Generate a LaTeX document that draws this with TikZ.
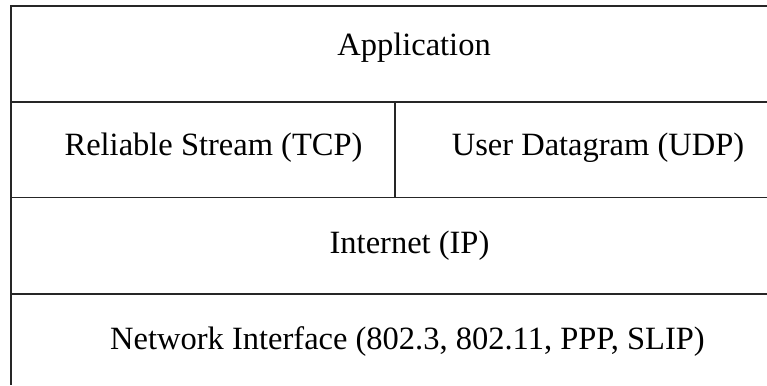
\documentclass[tikz,border=0pt]{standalone}
\usepackage{fontspec}
\setmainfont{Liberation Serif}
\begin{document}
\begin{tikzpicture}[x=1pt,y=-1pt,
  rule/.style={draw=black!85,line width=1.3pt},
  layer/.style={anchor=base,inner sep=0pt,font=\fontsize{32.5}{39}\selectfont}]
\useasboundingbox (0,0) rectangle (767,385);
% outer frame, open to the right and below
\draw[rule] (767,6) -- (11,6) -- (11,385);
% layer separators
\draw[rule] (11,102) -- (767,102);
\draw[rule] (11,197.5) -- (767,197.5);
\draw[rule] (11,294) -- (767,294);
% transport split
\draw[rule] (395,102) -- (395,197.5);
% layer labels
\node[layer] (app) at (414,56) {Application};
\node[layer] (tcp) at (213.5,155) {Reliable Stream (TCP)};
\node[layer] (udp) at (598,155) {User Datagram (UDP)};
\node[layer] (ip)  at (409.5,253) {Internet (IP)};
\node[layer] (net) at (407.5,349) {Network Interface (802.3, 802.11, PPP, SLIP)};
\end{tikzpicture}
\end{document}
